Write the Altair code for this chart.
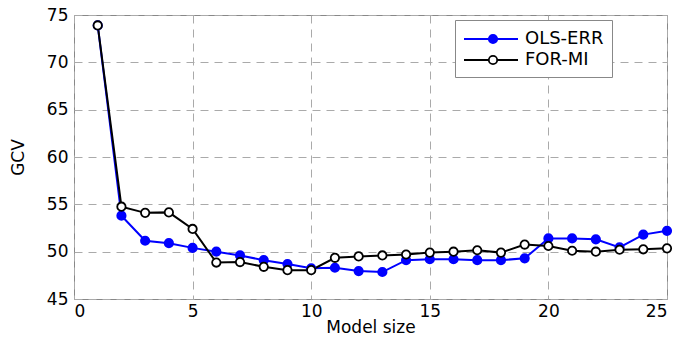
import altair as alt
import pandas as pd

model_size = list(range(1, 26))
ols_err = [73.9, 53.8, 51.15, 50.9, 50.4, 50.0, 49.6, 49.1, 48.7, 48.25,
           48.3, 47.95, 47.85, 49.1, 49.2, 49.2, 49.1, 49.1, 49.3, 51.4,
           51.4, 51.3, 50.45, 51.8, 52.2]
for_mi = [73.9, 54.75, 54.1, 54.15, 52.4, 48.85, 48.9, 48.4, 48.05, 48.05,
          49.35, 49.5, 49.6, 49.7, 49.9, 50.0, 50.15, 49.9, 50.75, 50.6,
          50.1, 50.0, 50.2, 50.25, 50.35]
series_names = ["OLS-ERR", "FOR-MI"]

rows = []
for name, vals in zip(series_names, [ols_err, for_mi]):
    for m, v in zip(model_size, vals):
        rows.append({"size": m, "gcv": v, "series": name})
df = pd.DataFrame(rows)

FONT = "DejaVu Sans"
stroke_scale = alt.Scale(domain=series_names, range=["#0000ff", "#000000"])
fill_scale = alt.Scale(domain=series_names, range=["#0000ff", "#ffffff"])

x = alt.X("size:Q", title="Model size",
          scale=alt.Scale(domain=[0, 25], nice=False),
          axis=alt.Axis(values=[0, 5, 10, 15, 20, 25], format="d"))
y = alt.Y("gcv:Q", title="GCV",
          scale=alt.Scale(domain=[45, 75], nice=False, zero=False),
          axis=alt.Axis(values=[45, 50, 55, 60, 65, 70, 75], format="d"))

# legend glyph: a wide line with a circle, drawn in a short symbol box
c, rr = 1.9, 0.42
legend_symbol = (f"M-1,0L{c - rr},0M{c + rr},0L4.4,0"
                 f"M{c + rr},0A{rr},{rr} 0 1 1 {c - rr},0A{rr},{rr} 0 1 1 {c + rr},0Z")

def make_legend():
    return alt.Legend(title=None, orient="none",
                      legendX=381, legendY=5,
                      symbolType=legend_symbol,
                      symbolSize=400,
                      symbolStrokeWidth=1.8,
                      labelFont=FONT, labelFontSize=18,
                      labelColor="#000000",
                      padding=8, rowPadding=1,
                      labelOffset=40)

lines = alt.Chart(df).mark_line(strokeWidth=2).encode(
    x=x, y=y,
    stroke=alt.Stroke("series:N", scale=stroke_scale, legend=make_legend()),
    order=alt.Order("size:Q"),
)

points = alt.Chart(df).mark_point(size=70, strokeWidth=1.8, opacity=1).encode(
    x=x, y=y,
    stroke=alt.Stroke("series:N", scale=stroke_scale, legend=make_legend()),
    fill=alt.Fill("series:N", scale=fill_scale, legend=make_legend()),
)

chart = alt.layer(lines, points).properties(
    width=593, height=284,
    autosize=alt.AutoSizeParams(type="none"),
    padding={"left": 66, "top": 7, "right": 6, "bottom": 40},
).configure_view(
    stroke="#888888", strokeWidth=1
).configure_legend(
    fillColor="white", strokeColor="#888888", padding=8,
).configure_axis(
    labelFont=FONT, labelFontSize=17, labelColor="#000000",
    titleFont=FONT, titleFontSize=17, titleColor="#000000", titleFontWeight="normal",
    grid=True, gridColor="#aaaaaa", gridDash=[8, 6], gridWidth=1,
    domain=False, ticks=False, labelPadding=4,
).configure_axisY(
    titlePadding=19, labelPadding=6,
).configure_axisX(
    titlePadding=0,
)

chart.save("out.html", embed_options={"renderer": "svg", "actions": False})
